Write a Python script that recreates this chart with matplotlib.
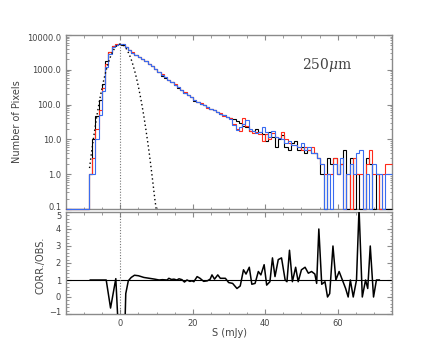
import numpy as np
import matplotlib
matplotlib.use('Agg')
import matplotlib.pyplot as plt
import matplotlib.transforms as mtransforms
from matplotlib.ticker import MultipleLocator, LogLocator, NullFormatter, FixedLocator

plt.rcParams['mathtext.fontset'] = 'dejavuserif'

# histogram bins: 0.9 mJy wide, first edge at -8.7
bin_start = -8.7
bin_width = 0.9

obs_counts = [1, 10, 48, 140, 400, 1800, 3300, 4700, 5300, 5600,
              5300, 4400, 3700, 3100, 2700, 2350, 2050, 1750, 1500, 1250,
              1050, 870, 680, 600, 510, 440, 370, 310, 265, 220,
              185, 160, 125, 118, 105, 95, 85, 76, 68, 62,
              54, 50, 44, 42, 38, 34, 30, 24, 22, 18,
              17, 20, 16, 14, 9, 16, 12, 6, 10, 13,
              6, 5, 8, 9, 5, 6, 4, 5, 4, 4,
              3, 1, 0, 3, 2, 3, 1, 2, 5, 0,
              3, 0, 1, 0, 0, 3, 2, 0, 1, 0,
              0, 0, 0]

red_counts = [1, 3, 20, 70, 300, 1500, 3300, 4700, 5400, 5600,
              5400, 4500, 3700, 3150, 2700, 2350, 2050, 1750, 1500, 1270,
              1050, 880, 740, 610, 520, 440, 380, 315, 270, 225,
              190, 160, 140, 120, 108, 95, 82, 76, 70, 60,
              56, 48, 44, 40, 28, 20, 17, 40, 25, 17,
              15, 16, 14, 9, 14, 10, 15, 12, 11, 16,
              10, 8, 7, 7, 6, 5, 6, 5, 6, 4,
              3, 2, 1, 1, 1, 3, 1, 2, 0, 1,
              0, 3, 1, 1, 0, 2, 5, 1, 1, 0,
              1, 2, 2]

blue_counts = [1, 1, 10, 50, 250, 1200, 2900, 4400, 5300, 5600,
               5400, 4500, 3700, 3100, 2700, 2350, 2050, 1750, 1500, 1260,
               1060, 880, 730, 610, 520, 440, 375, 312, 268, 222,
               188, 160, 135, 120, 106, 95, 83, 76, 69, 61,
               55, 49, 44, 38, 26, 19, 22, 28, 35, 20,
               17, 15, 16, 22, 16, 12, 18, 12, 11, 10,
               8, 9, 7, 7, 6, 8, 5, 6, 4, 4,
               3, 2, 0, 1, 0, 2, 1, 3, 0, 1,
               2, 1, 4, 5, 0, 1, 0, 2, 1, 1,
               0, 1, 1]

# gaussian noise model (dotted)
gauss_s = [-8.5, -8, -7.5, -7, -6.5, -6, -5.5, -5, -4.5, -4, -3.5, -3, -2.5,
           -2, -1.5, -1, -0.5, 0, 0.5, 1, 1.5, 2, 2.5, 3, 3.5, 4, 4.5, 5,
           5.5, 6, 6.5, 7, 7.5, 8, 8.5, 9, 9.5, 9.9]
gauss_n = [1.5, 3.9, 9.3, 21, 46, 93, 178, 323, 554, 896, 1370, 1990, 2710,
           3500, 4260, 4910, 5350, 5500, 5350, 4910, 4260, 3500, 2710, 1990,
           1370, 896, 554, 323, 178, 93, 46, 21, 9.3, 3.9, 1.5, 0.56, 0.2, 0.1]

# corrected / observed ratio
ratio_s = [-8.3, -3.9, -2.7, -1.25, -0.3, 1.1, 1.5, 2.2, 3.0, 3.9,
           5.0, 6.5, 8.0, 9.5, 10.7, 11.6, 12.9, 13.4, 14.1, 14.8,
           15.6, 16.2, 17.0, 17.7, 18.4, 19.2, 19.8, 20.3, 21.2, 22.0,
           23.0, 24.0, 24.8, 25.3, 26.0, 26.9, 27.6, 29.0, 29.9, 31.0,
           32.2, 33.1, 34.0, 34.7, 35.6, 36.3, 37.2, 38.1, 38.8, 39.7,
           40.4, 41.3, 42.0, 42.7, 43.6, 44.5, 45.5, 46.0, 46.7, 47.5,
           48.4, 49.1, 50.0, 51.0, 51.9, 52.8, 53.7, 54.2, 54.8, 55.6,
           56.5, 57.2, 57.8, 58.7, 59.5, 60.4, 61.3, 62.2, 62.9, 63.5,
           64.3, 65.2, 65.9, 66.8, 67.7, 68.3, 69.0, 69.9, 70.7, 71.5]
ratio_v = [1, 1, -0.65, 1.08, -3, -3, 0.2, 0.95, 1.15, 1.28,
           1.25, 1.15, 1.1, 1.05, 1.0, 1.02, 1.0, 1.1, 1.03, 1.05,
           1.0, 1.07, 1.02, 0.88, 1.0, 0.92, 0.95, 0.9, 1.2, 1.1,
           0.92, 0.95, 1.05, 1.3, 1.05, 1.3, 1.1, 1.1, 0.85, 0.8,
           0.5, 0.65, 1.6, 1.35, 1.75, 0.75, 0.8, 1.5, 1.3, 1.9,
           0.7, 0.9, 2.3, 1.2, 2.2, 2.3, 1.0, 0.9, 2.75, 0.9,
           1.75, 0.9, 1.6, 1.75, 1.4, 1.5, 1.35, 0.8, 4.0, 0.75,
           0.9, 0.0, 0.2, 3.0, 1.0, 1.5, 1.0, 0.5, 0.0, 1.0,
           0.0, 1.0, 5.2, 0.0, 1.0, 0.5, 3.0, 0.0, 1.0, 1.0]

upper_yticks = [0.1, 1, 10, 100, 1000, 10000]
upper_ylabels = ['0.1', '1.0', '10.0', '100.0', '1000.0', '10000.0']
lower_yticks = [-1, 0, 1, 2, 3, 4, 5]
lower_ylabels = ['\u22121', '0', '1', '2', '3', '4', '5']

frame = '#8a8a8a'
txt = '#444444'

nb = len(obs_counts)
edges = np.concatenate([[-15.0], bin_start + bin_width * np.arange(nb + 1)])


def stair_vals(c):
    return np.maximum(np.concatenate([[0.0], np.asarray(c, float)]), 0.1)


def nudge(label, dy_px):
    # shift an end tick label so it stays inside the panel (IDL style)
    label.set_transform(label.get_transform() +
                        mtransforms.ScaledTranslation(0, dy_px / 100.0, fig.dpi_scale_trans))


fig = plt.figure(figsize=(4.36, 3.49), dpi=100)
ax1 = fig.add_axes([66/436, 1-209/349, 326/436, 174/349])
ax2 = fig.add_axes([66/436, 1-314/349, 326/436, 102/349])

ax1.set_yscale('log')
for cnt, col in [(obs_counts, 'black'), (red_counts, '#ff2a1a'), (blue_counts, '#3a6cf0')]:
    ax1.stairs(stair_vals(cnt), edges, baseline=None, color=col, lw=0.8,
               zorder=3, clip_on=False)
ax1.plot(gauss_s, gauss_n, color='black', ls=(0, (1, 2)), lw=1.0, zorder=4)
ax1.vlines(0, 0.1, 5500, color='#777777', ls=(0, (1, 1.5)), lw=0.8, zorder=2)
ax1.set_xlim(-15, 75)
ax1.set_ylim(0.1, 10000)
ax1.text(0.80, 0.83, r'250$\mu$m', transform=ax1.transAxes, ha='center', va='center',
         fontsize=10, color=txt, family='DejaVu Serif')

ax2.axhline(1, color='black', lw=0.8, zorder=2)
ax2.plot(ratio_s, ratio_v, color='black', lw=1.1, zorder=3)
ax2.axvline(0, color='#777777', ls=(0, (1, 1.5)), lw=0.8, zorder=2)
ax2.set_xlim(-15, 75)
ax2.set_ylim(-1, 5)

for ax in (ax1, ax2):
    for sp in ax.spines.values():
        sp.set_color(frame)
        sp.set_linewidth(1.0)
    ax.xaxis.set_major_locator(FixedLocator([0, 20, 40, 60]))
    ax.xaxis.set_minor_locator(MultipleLocator(5))
    ax.tick_params(which='both', direction='in', top=True, right=True,
                   colors=frame, labelcolor=txt, labelsize=6)
    ax.tick_params(which='major', length=3.5, width=0.8)
    ax.tick_params(which='minor', length=1.8, width=0.6)

ax1.set_yticks(upper_yticks)
ax1.set_yticklabels(upper_ylabels)
ax1.yaxis.set_minor_locator(LogLocator(base=10, subs=np.arange(2, 10)))
ax1.yaxis.set_minor_formatter(NullFormatter())
ax1.tick_params(axis='x', labelbottom=False)

ax2.set_yticks(lower_yticks)
ax2.set_yticklabels(lower_ylabels)
ax2.yaxis.set_minor_locator(MultipleLocator(0.2))

up_labels = ax1.get_yticklabels()
nudge(up_labels[0], 2.5)
nudge(up_labels[-1], -2.5)
lo_labels = ax2.get_yticklabels()
nudge(lo_labels[0], 2.7)
nudge(lo_labels[-1], -3.5)

fig.text(17/436, 1-122/349, 'Number of Pixels', rotation=90, ha='center', va='center',
         fontsize=7, color=txt)
fig.text(40/436, 1-265/349, 'CORR./OBS.', rotation=90, ha='center', va='center',
         fontsize=7, color=txt)
fig.text(229/436, 1-333/349, 'S (mJy)', ha='center', va='center', fontsize=7, color=txt)

fig.savefig('out.png', dpi=100)
